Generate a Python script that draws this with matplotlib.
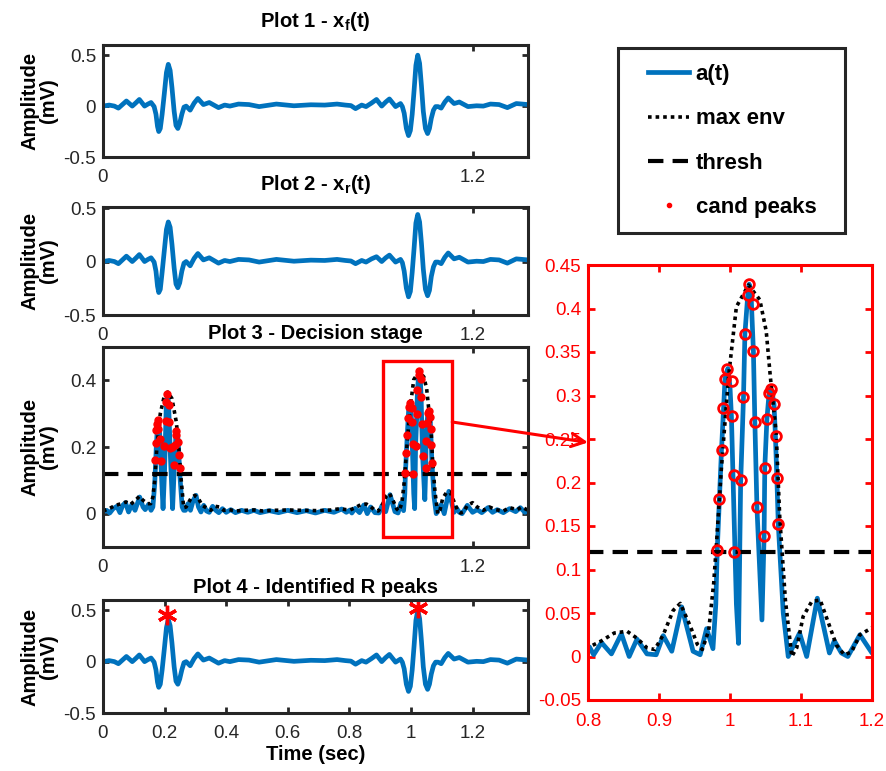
import numpy as np
import matplotlib
matplotlib.use("Agg")
import matplotlib.pyplot as plt
from matplotlib.patches import Rectangle

plt.rcParams['font.family'] = ['Liberation Sans', 'DejaVu Sans']
plt.rcParams['mathtext.fontset'] = 'custom'
plt.rcParams['mathtext.rm'] = 'Liberation Sans'
plt.rcParams['mathtext.bf'] = 'Liberation Sans:bold'
plt.rcParams['mathtext.it'] = 'Liberation Sans:italic'

## Data: values

# filtered / reconstructed ECG (plots 1, 2 and 4)
t_x = [0.000, 0.020, 0.037, 0.050, 0.063, 0.076, 0.095, 0.106, 0.118, 0.135,
       0.146, 0.156, 0.166, 0.172, 0.177, 0.181, 0.186, 0.192, 0.199, 0.206,
       0.212, 0.218, 0.224, 0.231, 0.237, 0.243, 0.249, 0.256, 0.263, 0.270,
       0.283, 0.296, 0.308, 0.326, 0.345, 0.360, 0.375, 0.395, 0.412, 0.440,
       0.474, 0.507, 0.563, 0.620, 0.675, 0.720, 0.760, 0.787, 0.805, 0.820,
       0.840, 0.854, 0.872, 0.888, 0.905, 0.918, 0.930, 0.950, 0.966, 0.972,
       0.978, 0.985, 0.992, 0.998, 1.004, 1.010, 1.016, 1.022, 1.028, 1.034,
       1.040, 1.047, 1.054, 1.060, 1.066, 1.073, 1.080, 1.088, 1.098, 1.110,
       1.121, 1.140, 1.157, 1.185, 1.213, 1.235, 1.258, 1.286, 1.313, 1.342,
       1.380]
x_f = [0.000, 0.010, 0.000, -0.020, 0.015, 0.050, 0.000, 0.030, 0.065, 0.000,
       0.020, 0.035, -0.005, -0.080, -0.200, -0.250, -0.220, -0.080, 0.120, 0.330,
       0.410, 0.350, 0.180, -0.050, -0.190, -0.220, -0.170, -0.080, -0.010, 0.000,
       -0.040, 0.030, 0.075, 0.015, 0.035, 0.010, -0.015, 0.010, 0.000, 0.020,
       0.015, -0.005, 0.020, 0.003, 0.013, 0.010, 0.020, 0.010, 0.005, -0.025,
       0.010, -0.005, 0.030, 0.065, 0.000, 0.040, 0.070, -0.005, 0.025, -0.005,
       -0.070, -0.220, -0.290, -0.240, -0.080, 0.150, 0.400, 0.500, 0.420, 0.200,
       -0.050, -0.220, -0.270, -0.220, -0.120, -0.040, -0.005, -0.005, -0.020, 0.040,
       0.080, 0.025, 0.040, -0.005, 0.003, 0.000, 0.020, 0.015, -0.015, 0.025,
       0.015]
x_r = [0.000, 0.010, 0.000, -0.020, 0.015, 0.050, 0.000, 0.030, 0.065, 0.000,
       0.020, 0.035, -0.005, -0.090, -0.230, -0.290, -0.260, -0.100, 0.100, 0.300,
       0.370, 0.320, 0.160, -0.060, -0.210, -0.245, -0.200, -0.090, -0.015, 0.000,
       -0.040, 0.030, 0.075, 0.015, 0.035, 0.010, -0.015, 0.010, 0.000, 0.020,
       0.015, -0.005, 0.020, 0.003, 0.013, 0.010, 0.020, 0.010, 0.005, -0.020,
       0.010, -0.005, 0.025, 0.045, 0.000, 0.035, 0.060, -0.005, 0.020, -0.010,
       -0.090, -0.250, -0.330, -0.280, -0.100, 0.120, 0.360, 0.440, 0.370, 0.170,
       -0.070, -0.260, -0.320, -0.270, -0.140, -0.050, -0.005, -0.005, -0.020, 0.040,
       0.080, 0.025, 0.040, -0.005, 0.003, 0.000, 0.020, 0.015, -0.015, 0.025,
       0.015]

# decision stage signal a(t)
t_a = [0.000, 0.012, 0.022, 0.033, 0.045, 0.055, 0.064, 0.073, 0.083, 0.094,
       0.104, 0.119, 0.130, 0.137, 0.148, 0.156, 0.162, 0.168, 0.173, 0.177,
       0.180, 0.184, 0.190, 0.195, 0.200, 0.205, 0.209, 0.213, 0.219, 0.226,
       0.232, 0.237, 0.240, 0.244, 0.250, 0.257, 0.262, 0.268, 0.276, 0.284,
       0.293, 0.302, 0.310, 0.318, 0.327, 0.336, 0.345, 0.356, 0.366, 0.376,
       0.388, 0.400, 0.415, 0.430, 0.450, 0.470, 0.490, 0.510, 0.540, 0.570,
       0.600, 0.630, 0.660, 0.690, 0.720, 0.750, 0.775, 0.790, 0.802, 0.808,
       0.819, 0.833, 0.847, 0.858, 0.869, 0.883, 0.896, 0.906, 0.918, 0.932,
       0.948, 0.958, 0.967, 0.976, 0.980, 0.982, 0.985, 0.988, 0.991, 0.993,
       0.997, 1.000, 1.002, 1.006, 1.009, 1.012, 1.015, 1.019, 1.021, 1.025,
       1.027, 1.030, 1.033, 1.035, 1.038, 1.045, 1.048, 1.049, 1.052, 1.055,
       1.057, 1.060, 1.062, 1.064, 1.066, 1.068, 1.075, 1.082, 1.098, 1.108,
       1.123, 1.140, 1.147, 1.157, 1.166, 1.183, 1.200, 1.215, 1.230, 1.250,
       1.265, 1.280, 1.300, 1.320, 1.340, 1.355, 1.370, 1.380]
a_t = [0.005, 0.010, 0.002, 0.015, 0.022, 0.003, 0.025, 0.033, 0.005, 0.028,
       0.010, 0.050, 0.020, 0.012, 0.028, 0.010, 0.020, 0.090, 0.200, 0.265,
       0.280, 0.240, 0.110, 0.015, 0.130, 0.310, 0.360, 0.330, 0.170, 0.015,
       0.150, 0.240, 0.250, 0.220, 0.110, 0.020, 0.010, 0.010, 0.030, 0.010,
       0.040, 0.055, 0.020, 0.005, 0.025, 0.008, 0.004, 0.022, 0.010, 0.003,
       0.015, 0.004, 0.012, 0.003, 0.010, 0.004, 0.010, 0.003, 0.009, 0.003,
       0.010, 0.003, 0.009, 0.002, 0.010, 0.004, 0.014, 0.004, 0.011, 0.002,
       0.016, 0.003, 0.026, 0.000, 0.020, 0.003, 0.002, 0.024, 0.006, 0.057,
       0.006, 0.002, 0.032, 0.009, 0.060, 0.122, 0.180, 0.237, 0.286, 0.319,
       0.331, 0.310, 0.276, 0.150, 0.060, 0.015, 0.200, 0.298, 0.371, 0.415,
       0.428, 0.410, 0.350, 0.270, 0.170, 0.042, 0.138, 0.217, 0.273, 0.302,
       0.308, 0.300, 0.290, 0.253, 0.205, 0.152, 0.050, 0.000, 0.027, 0.000,
       0.067, 0.004, 0.018, 0.004, 0.000, 0.025, 0.004, 0.012, 0.003, 0.018,
       0.004, 0.012, 0.003, 0.015, 0.006, 0.018, 0.004, 0.008]

# maximum envelope
t_env = [0.000, 0.020, 0.040, 0.060, 0.075, 0.090, 0.105, 0.118, 0.130, 0.145,
         0.155, 0.162, 0.168, 0.175, 0.186, 0.197, 0.210, 0.224, 0.238, 0.245,
         0.253, 0.262, 0.270, 0.285, 0.298, 0.310, 0.322, 0.335, 0.350, 0.365,
         0.378, 0.392, 0.410, 0.430, 0.460, 0.490, 0.520, 0.550, 0.600, 0.650,
         0.700, 0.740, 0.770, 0.790, 0.802, 0.819, 0.837, 0.855, 0.869, 0.883,
         0.894, 0.906, 0.920, 0.930, 0.944, 0.954, 0.961, 0.970, 0.977, 0.981,
         0.988, 0.998, 1.009, 1.026, 1.042, 1.051, 1.057, 1.065, 1.070, 1.078,
         1.087, 1.094, 1.103, 1.115, 1.127, 1.138, 1.150, 1.161, 1.171, 1.183,
         1.200, 1.215, 1.235, 1.255, 1.275, 1.300, 1.320, 1.345, 1.360, 1.380]
max_env = [0.008, 0.015, 0.025, 0.030, 0.035, 0.028, 0.040, 0.052, 0.040, 0.030,
           0.030, 0.050, 0.100, 0.200, 0.300, 0.345, 0.365, 0.345, 0.275, 0.210,
           0.110, 0.018, 0.020, 0.045, 0.055, 0.045, 0.025, 0.018, 0.010, 0.022,
           0.020, 0.010, 0.012, 0.008, 0.010, 0.011, 0.008, 0.010, 0.011, 0.010,
           0.009, 0.011, 0.015, 0.012, 0.011, 0.018, 0.027, 0.029, 0.021, 0.010,
           0.008, 0.025, 0.053, 0.061, 0.035, 0.014, 0.008, 0.030, 0.084, 0.130,
           0.218, 0.322, 0.402, 0.427, 0.410, 0.374, 0.320, 0.257, 0.161, 0.065,
           0.000, 0.010, 0.046, 0.063, 0.065, 0.040, 0.013, 0.002, 0.005, 0.025,
           0.033, 0.020, 0.010, 0.020, 0.012, 0.008, 0.018, 0.012, 0.020, 0.010]

thresh = 0.12

# candidate peaks
cand_t = [0.2078, 0.2055, 0.2153, 0.1786, 0.1753, 0.2045, 0.2153, 0.1786, 0.1730, 0.2380,
          0.2370, 0.1860, 0.1730, 0.2420, 0.1990, 0.2240, 0.2185, 0.2347, 0.2455, 0.1700,
          0.1880, 0.2290, 0.2488,
          1.0268, 1.0250, 1.0320, 1.0211, 1.0328, 0.9960, 0.9930, 1.0024, 1.0573, 1.0553,
          1.0188, 1.0624, 0.9906, 1.0024, 1.0352, 1.0517, 1.0643, 0.9883, 1.0493, 1.0056,
          1.0150, 1.0657, 0.9850, 1.0384, 1.0680, 1.0479, 0.9822, 1.0056]
cand_v = [0.360, 0.334, 0.327, 0.281, 0.268, 0.278, 0.274, 0.255, 0.251, 0.248,
          0.236, 0.223, 0.211, 0.215, 0.203, 0.201, 0.196, 0.205, 0.177, 0.162,
          0.159, 0.145, 0.137,
          0.428, 0.415, 0.405, 0.371, 0.351, 0.331, 0.319, 0.317, 0.308, 0.303,
          0.298, 0.290, 0.286, 0.276, 0.270, 0.273, 0.253, 0.237, 0.217, 0.209,
          0.203, 0.205, 0.181, 0.172, 0.152, 0.138, 0.122, 0.120]

# identified R peaks
r_peak_t = [0.209, 1.023]
r_peak_v = [0.455, 0.526]

## Figure

BLUE = '#0072BD'
GRAY = '#262626'
W, H = 887, 771
TICK_FS = 13.5
LABEL_FS = 14.5

fig = plt.figure(figsize=(W / 100, H / 100), dpi=100)


def box(left, top, right, bottom):
    return [left / W, 1 - bottom / H, (right - left) / W, (bottom - top) / H]


def style(ax, color=GRAY, labelcolor=GRAY):
    for sp in ax.spines.values():
        sp.set_linewidth(2.2)
        sp.set_color(color)
    ax.tick_params(direction='in', top=True, right=True, length=4, width=2,
                   color=color, labelcolor=labelcolor, labelsize=TICK_FS)
    ax.tick_params(axis='x', pad=9)
    ax.tick_params(axis='y', pad=5)


def amp_label(ax):
    ax.set_ylabel('Amplitude\n(mV)', fontsize=LABEL_FS, fontweight='bold', linespacing=1.0)
    ax.yaxis.set_label_coords(-0.105, 0.5)


def title(ax, text, pad=5):
    ax.set_title(text, fontsize=LABEL_FS, fontweight='bold', pad=pad)


xmax = 1.38
ax1 = fig.add_axes(box(103, 45, 528, 157))
ax2 = fig.add_axes(box(103, 207, 528, 315))
ax3 = fig.add_axes(box(103, 347, 528, 547))
ax4 = fig.add_axes(box(103, 600, 528, 713))
axin = fig.add_axes(box(588, 265, 872, 700))

# plot 1
ax1.plot(t_x, x_f, color=BLUE, lw=3.4)
ax1.set_ylim(-0.5, 0.6)
title(ax1, r'Plot 1 - x$_\mathbf{f}$(t)', pad=13)

# plot 2
ax2.plot(t_x, x_r, color=BLUE, lw=3.4)
ax2.set_ylim(-0.5, 0.51)
title(ax2, r'Plot 2 - x$_\mathbf{r}$(t)', pad=12)

for ax in (ax1, ax2, ax4):
    ax.set_yticks([-0.5, 0, 0.5])
    ax.set_yticklabels(['-0.5', '0', '0.5'])

# plot 3
l_a, = ax3.plot(t_a, a_t, color=BLUE, lw=3.4)
l_env, = ax3.plot(t_env, max_env, color='black', lw=2.6, linestyle=(0, (1, 1.1)))
l_thr = ax3.axhline(thresh, color='black', lw=3, linestyle=(0, (3.7, 2.2)))
l_cand, = ax3.plot(cand_t, cand_v, linestyle='none', marker='o', ms=5, color='red')
ax3.set_ylim(-0.1, 0.5)
ax3.set_yticks([0, 0.2, 0.4])
ax3.set_yticklabels(['0', '0.2', '0.4'])
title(ax3, 'Plot 3 - Decision stage', pad=6)
ax3.add_patch(Rectangle((0.91, -0.07), 0.224, 0.528, fill=False, ec='red', lw=2.4, zorder=5))

for ax in (ax1, ax2, ax3):
    ax.set_xlim(0, xmax)
    ax.set_xticks([0, 1.2])
    ax.set_xticklabels(['0', '1.2'])
    amp_label(ax)
    style(ax)

# plot 4
ax4.plot(t_x, x_f, color=BLUE, lw=3.4)
ax4.plot(r_peak_t, r_peak_v, linestyle='none', marker=(6, 2, 0), ms=14, mew=2.4, color='red')
ax4.set_xlim(0, xmax)
ax4.set_ylim(-0.5, 0.6)
ax4.set_xticks([0, 0.2, 0.4, 0.6, 0.8, 1, 1.2])
ax4.set_xticklabels(['0', '0.2', '0.4', '0.6', '0.8', '1', '1.2'])
ax4.set_xlabel('Time (sec)', fontsize=LABEL_FS, fontweight='bold', labelpad=2)
title(ax4, 'Plot 4 - Identified R peaks', pad=5)
amp_label(ax4)
style(ax4)

# zoomed inset
axin.plot(t_a, a_t, color=BLUE, lw=3.4)
axin.plot(t_env, max_env, color='black', lw=2.6, linestyle=(0, (1, 1.1)))
axin.axhline(thresh, color='black', lw=3, linestyle=(0, (3.7, 2.2)))
axin.plot(cand_t, cand_v, linestyle='none', marker='o', ms=7, mfc='none', mec='red', mew=2)
axin.set_xlim(0.8, 1.2)
axin.set_ylim(-0.05, 0.45)
axin.set_xticks([0.8, 0.9, 1.0, 1.1, 1.2])
axin.set_xticklabels(['0.8', '0.9', '1', '1.1', '1.2'])
yt = [-0.05, 0, 0.05, 0.1, 0.15, 0.2, 0.25, 0.3, 0.35, 0.4, 0.45]
axin.set_yticks(yt)
axin.set_yticklabels(['-0.05', '0', '0.05', '0.1', '0.15', '0.2', '0.25', '0.3', '0.35', '0.4', '0.45'])
style(axin, color='red', labelcolor='red')
axin.tick_params(length=5)

# arrow from the box to the inset
axin.annotate('', xy=(0.8, 0.246), xycoords='data',
              xytext=(1.134, 0.275), textcoords=ax3.transData,
              arrowprops=dict(arrowstyle='->', color='red', lw=2.2,
                              shrinkA=0, shrinkB=0, mutation_scale=24),
              annotation_clip=False, zorder=10)

# legend: entries without frame, box drawn separately
leg = fig.legend([l_a, l_env, l_thr, l_cand], ['a(t)', 'max env', 'thresh', 'cand peaks'],
                 loc='upper left', bbox_to_anchor=(648 / W, 1 - 64 / H),
                 frameon=False, borderaxespad=0, borderpad=0,
                 labelspacing=1.05, handlelength=1.85, handletextpad=0.3,
                 markerscale=0.6, prop={'weight': 'bold', 'size': 16})
fig.add_artist(Rectangle((618 / W, 1 - 233 / H), 227 / W, 185 / H, transform=fig.transFigure,
                         fill=True, fc='white', ec=GRAY, lw=2.2, zorder=-1))

fig.savefig('out.png', dpi=100)
